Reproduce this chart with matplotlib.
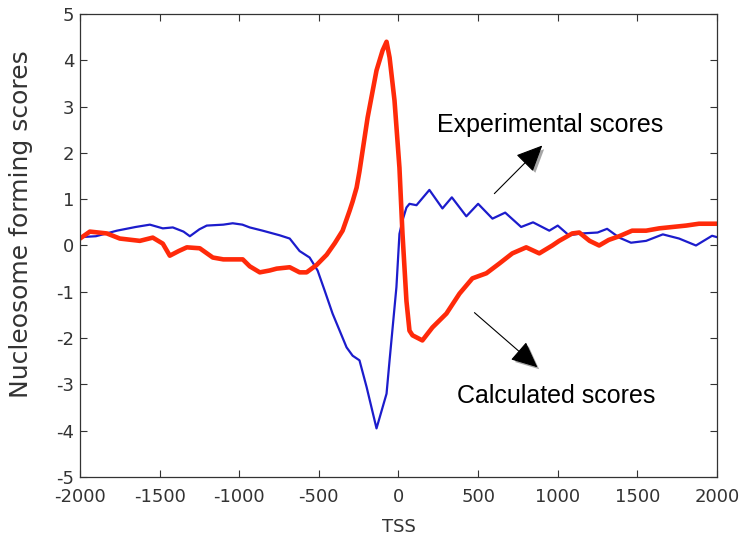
import numpy as np
import matplotlib
matplotlib.use('Agg')
from matplotlib import pyplot as plt
from matplotlib import patheffects as pe

plt.rcParams['axes.unicode_minus'] = False

# experimental scores (blue)
exp_x = [-2000, -1900, -1768, -1650, -1561, -1480, -1417, -1350, -1310, -1250, -1204,
         -1100, -1041, -980, -934, -853, -746, -683, -621, -558, -508, -464, -414,
         -326, -288, -245, -200, -138, -75, -56, -13, 6, 25, 50, 69, 113, 194, 276,
         335, 426, 500, 590, 670, 770, 845, 947, 1000, 1070, 1150, 1250, 1310, 1386,
         1460, 1555, 1660, 1762, 1868, 1969, 2000]
exp_y = [0.18, 0.2, 0.32, 0.4, 0.45, 0.37, 0.39, 0.3, 0.2, 0.35, 0.43,
         0.45, 0.48, 0.45, 0.39, 0.32, 0.22, 0.15, -0.12, -0.26, -0.54, -0.97, -1.47,
         -2.2, -2.38, -2.48, -3.06, -3.95, -3.2, -2.48, -0.9, 0.25, 0.54, 0.82, 0.9, 0.87, 1.2, 0.8,
         1.04, 0.63, 0.9, 0.58, 0.71, 0.4, 0.5, 0.32, 0.43, 0.22, 0.26, 0.28, 0.36, 0.17,
         0.06, 0.1, 0.24, 0.15, 0.0, 0.21, 0.18]

# calculated scores (red)
calc_x = [-2000, -1938, -1831, -1750, -1624, -1543, -1480, -1436, -1380, -1329, -1248,
          -1166, -1100, -1041, -978, -934, -871, -809, -765, -683, -621, -577, -514,
          -451, -400, -351, -307, -288, -263, -245, -194, -138, -100, -75, -56, -25,
          6, 25, 50, 69, 88, 150, 213, 301, 383, 464, 552, 633, 715, 802, 884, 966,
          1009, 1091, 1135, 1200, 1260, 1320, 1386, 1467, 1555, 1637, 1806, 1887, 2000]
calc_y = [0.15, 0.3, 0.26, 0.15, 0.1, 0.17, 0.04, -0.22, -0.12, -0.04, -0.06,
          -0.26, -0.3, -0.3, -0.3, -0.45, -0.58, -0.54, -0.5, -0.47, -0.58, -0.58, -0.42,
          -0.2, 0.05, 0.32, 0.75, 0.95, 1.25, 1.6, 2.76, 3.78, 4.21, 4.4, 4.06, 3.13,
          1.68, 0.26, -1.2, -1.84, -1.94, -2.05, -1.77, -1.47, -1.04, -0.71, -0.6, -0.39, -0.17, -0.04, -0.17, 0.0,
          0.1, 0.26, 0.28, 0.1, 0.0, 0.12, 0.2, 0.32, 0.32, 0.37, 0.43, 0.47, 0.47]

fig = plt.figure(figsize=(7.42, 5.37), dpi=100)
ax = fig.add_axes([0.1078, 0.1117, 0.8585, 0.8623])

ax.plot(exp_x, exp_y, color='#1c1ccc', lw=1.6)
ax.plot(calc_x, calc_y, color='#ff2a0a', lw=3.3)

ax.set_xlim(-2000, 2000)
ax.set_ylim(-5, 5)
ax.set_xticks(np.arange(-2000, 2001, 500))
ax.set_yticks(np.arange(-5, 6, 1))
ax.tick_params(direction='in', top=True, right=True, length=5, width=0.8,
               labelsize=13, labelcolor='#333333', color='#333333', pad=4)
ax.tick_params(axis='x', pad=8)
for s in ax.spines.values():
    s.set_color('#333333')
    s.set_linewidth(0.9)

ax.set_ylabel('Nucleosome forming scores', fontsize=18, color='#333333')
ax.yaxis.set_label_coords(-0.074, 0.546)
ax.set_xlabel('TSS', fontsize=13, color='#333333')
ax.xaxis.set_label_coords(0.5, -0.088)

# annotations
shadow = [pe.SimplePatchShadow(offset=(2, -2), alpha=0.35), pe.Normal()]
ax.text(240, 2.6, 'Experimental scores', fontsize=18, family='Liberation Sans',
        ha='left', va='center', color='black')
a1 = ax.annotate('', xy=(903, 2.16), xytext=(602, 1.12),
                 arrowprops=dict(arrowstyle='-|>,head_length=1.1,head_width=0.5',
                                 mutation_scale=15, lw=0.8, color='black',
                                 shrinkA=0, shrinkB=0))
a1.arrow_patch.set_path_effects(shadow)

ax.text(370, -3.24, 'Calculated scores', fontsize=18, family='Liberation Sans',
        ha='left', va='center', color='black')
a2 = ax.annotate('', xy=(872, -2.63), xytext=(477, -1.45),
                 arrowprops=dict(arrowstyle='-|>,head_length=1.1,head_width=0.5',
                                 mutation_scale=15, lw=0.8, color='black',
                                 shrinkA=0, shrinkB=0))
a2.arrow_patch.set_path_effects(shadow)

fig.savefig('out.png', dpi=100)
